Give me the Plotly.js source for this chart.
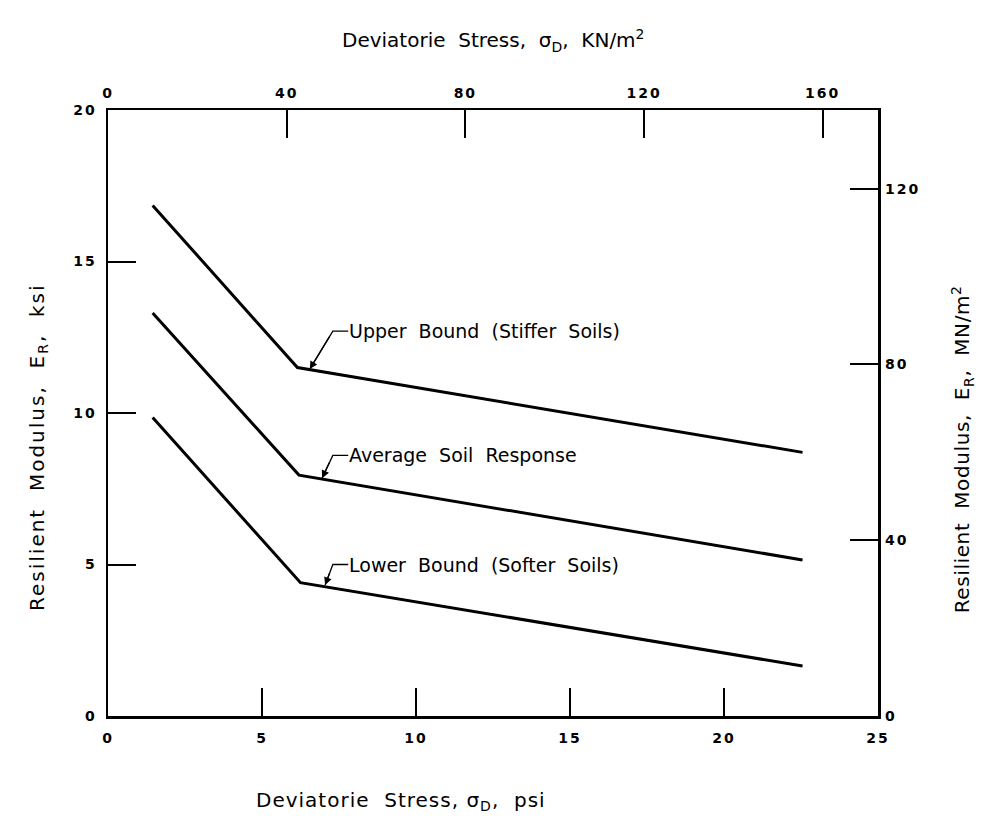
<!DOCTYPE html>
<html>
<head>
<meta charset="utf-8">
<script src="https://cdn.plot.ly/plotly-3.0.1.min.js"></script>
<style>
html,body{margin:0;padding:0;background:#fff;}
#chart{width:991px;height:831px;}
#chart .xtick text, #chart .ytick text, #chart .x2tick text, #chart .y2tick text{letter-spacing:2px;}
#chart .annotation[data-index="7"] text{letter-spacing:1px;}
#chart .annotation[data-index="8"] text{letter-spacing:2px;}
#chart .annotation[data-index="9"] text{letter-spacing:0.6px;}
</style>
</head>
<body>
<div id="chart"></div>
<script>
// ---- data ----
const seriesNames = ["Upper  Bound  (Stiffer  Soils)", "Average  Soil  Response", "Lower  Bound  (Softer  Soils)"];
const upperX = [1.45, 6.15, 22.55];
const upperY = [16.85, 11.5, 8.7];
const averageX = [1.45, 6.2, 22.55];
const averageY = [13.3, 7.95, 5.15];
const lowerX = [1.45, 6.25, 22.55];
const lowerY = [9.85, 4.4, 1.65];

const psiTicks = [0, 5, 10, 15, 20, 25];
const ksiTicks = [0, 5, 10, 15, 20];
const kpaTicks = [0, 40, 80, 120, 160];
const mpaTicks = [0, 40, 80, 120];
const PSI_TO_KPA = 6.895;   // 1 psi = 6.895 kN/m^2 ; 1 ksi = 6.895 MN/m^2

const font = "DejaVu Sans, Arial, sans-serif";
const lineStyle = {color: "#000", width: 3};

const traces = [
  {x: upperX, y: upperY, name: seriesNames[0]},
  {x: averageX, y: averageY, name: seriesNames[1]},
  {x: lowerX, y: lowerY, name: seriesNames[2]}
].map(t => Object.assign(t, {type: "scatter", mode: "lines", line: lineStyle,
   xaxis: "x", yaxis: "y", hoverinfo: "x+y"}));

// invisible traces to activate the secondary axes
traces.push({x: [0], y: [0], xaxis: "x2", yaxis: "y", mode: "markers",
  marker: {opacity: 0}, showlegend: false, hoverinfo: "skip"});
traces.push({x: [0], y: [0], xaxis: "x", yaxis: "y2", mode: "markers",
  marker: {opacity: 0}, showlegend: false, hoverinfo: "skip"});

const tickFont = {family: font, size: 14, color: "#000", weight: "bold"};
const axBase = {
  showgrid: false, zeroline: false, showline: true, linecolor: "#000", linewidth: 2.5,
  ticks: "inside", ticklen: 28, tickwidth: 2, tickcolor: "#000", tickfont: tickFont,
  fixedrange: true
};

// label leaders: tip (on the line), bend point, text start
const labelTipX = [6.55, 6.95, 7.05];
const labelTipY = [11.45, 7.85, 4.32];
const labelBendX = [7.3, 7.3, 7.3];
const labelBendY = [12.7, 8.6, 5.0];
const labelTextX = 7.8;

const annotations = [];
const shapes = [];
for (let i = 0; i < 3; i++) {
  annotations.push({
    x: labelTipX[i], y: labelTipY[i], xref: "x", yref: "y",
    ax: labelBendX[i], ay: labelBendY[i], axref: "x", ayref: "y",
    text: " ", showarrow: true, arrowhead: 2, arrowsize: 1.2, arrowwidth: 1.3,
    arrowcolor: "#000"
  });
  shapes.push({type: "path", xref: "x", yref: "y",
    path: `M ${labelTipX[i]} ${labelTipY[i]} L ${labelBendX[i]} ${labelBendY[i]} L ${labelTextX} ${labelBendY[i]}`,
    line: {color: "#000", width: 1.3}});
  annotations.push({
    x: labelTextX, y: labelBendY[i], xref: "x", yref: "y",
    text: seriesNames[i], showarrow: false, xanchor: "left", yanchor: "middle",
    borderpad: 0, font: {family: font, size: 19, color: "#000"}
  });
}

// axis titles (annotation indices 6..9)
const titleFont = {family: font, size: 20, color: "#000"};
annotations.push({xref: "paper", yref: "paper", x: 0.5, y: 1, yshift: 70, xanchor: "center", yanchor: "middle",
  text: "Deviatorie  Stress,  σ<sub>D</sub>,  KN/m<sup>2</sup>", showarrow: false, font: titleFont});
annotations.push({xref: "paper", yref: "paper", x: 0.5, y: 0, xshift: -92, yshift: -85, xanchor: "center", yanchor: "middle",
  text: "Deviatorie  Stress, σ<sub>D</sub>,  psi", showarrow: false, font: titleFont});
annotations.push({xref: "paper", yref: "paper", x: 0, y: 0.5, xshift: -70, yshift: -34, xanchor: "center", yanchor: "middle",
  text: "Resilient  Modulus,  E<sub>R</sub>,  ksi", textangle: -90, showarrow: false, font: titleFont});
annotations.push({xref: "paper", yref: "paper", x: 1, y: 0.5, xshift: 84, yshift: -37, xanchor: "center", yanchor: "middle",
  text: "Resilient  Modulus,  E<sub>R</sub>,  MN/m<sup>2</sup>", textangle: -90, showarrow: false, font: titleFont});

const layout = {
  width: 991, height: 831,
  margin: {l: 108, r: 113, t: 110, b: 115},
  paper_bgcolor: "#fff", plot_bgcolor: "#fff",
  showlegend: false,
  font: {family: font, color: "#000"},
  xaxis: Object.assign({}, axBase, {range: [0, 25], tickvals: psiTicks, ticktext: psiTicks.map(String),
     mirror: true, ticklabelstandoff: 8}),
  yaxis: Object.assign({}, axBase, {range: [0, 20], tickvals: ksiTicks, ticktext: ksiTicks.map(String),
     mirror: true, ticklabelstandoff: 6}),
  xaxis2: Object.assign({}, axBase, {overlaying: "x", side: "top", anchor: "y",
     range: [0, 25 * PSI_TO_KPA], tickvals: kpaTicks, ticktext: kpaTicks.map(String), showline: false,
     ticklabelstandoff: 8}),
  yaxis2: Object.assign({}, axBase, {overlaying: "y", side: "right", anchor: "x",
     range: [0, 20 * PSI_TO_KPA], tickvals: mpaTicks, ticktext: mpaTicks.map(String), showline: false,
     ticklabelstandoff: 6}),
  annotations: annotations,
  shapes: shapes
};

Plotly.newPlot("chart", traces, layout, {displayModeBar: false, staticPlot: true});
</script>
</body>
</html>
